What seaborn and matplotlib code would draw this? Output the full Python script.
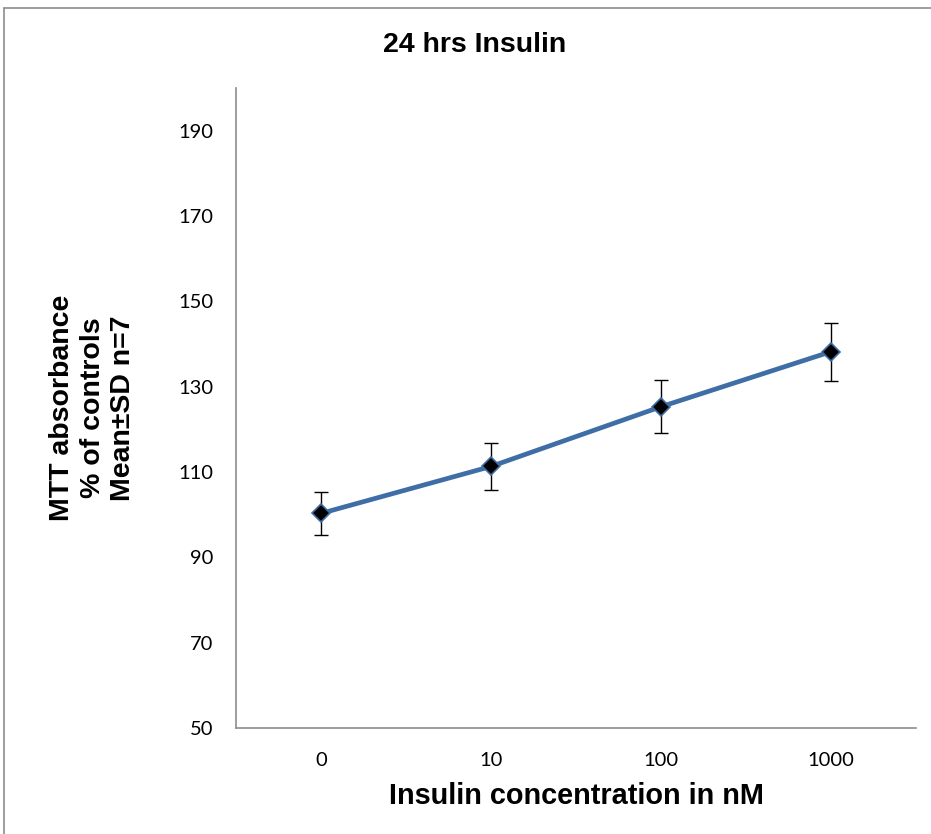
import matplotlib
matplotlib.use("Agg")
import matplotlib.pyplot as plt
import seaborn as sns
import pandas as pd
from matplotlib.lines import Line2D

# values
concentrations = ["0", "10", "100", "1000"]
mean_pct = [100.3, 111.3, 125.3, 138.2]
sd_pct = [5.0, 5.5, 6.2, 6.8]
y_ticks = [50, 70, 90, 110, 130, 150, 170, 190]

df = pd.DataFrame({"conc": concentrations, "mean": mean_pct, "sd": sd_pct})

sns.set_style("white")
plt.rcParams["font.family"] = ["Lato", "DejaVu Sans"]
plt.rcParams["text.color"] = "black"
plt.rcParams["axes.labelcolor"] = "black"

bold_font = ["Liberation Sans", "DejaVu Sans"]

fig = plt.figure(figsize=(9.31, 8.34), dpi=100)
ax = fig.add_axes([236 / 931, 1 - 728 / 834, (916 - 236) / 931, (728 - 88) / 834])

sns.pointplot(data=df, x="conc", y="mean", order=concentrations, errorbar=None,
              color="#3F6DA5", markers="D", linestyles="-", ax=ax,
              linewidth=3.4, markersize=9.5, markerfacecolor="black",
              markeredgecolor="#3F6DA5", markeredgewidth=1.2)

# standard deviation bars
ax.errorbar(range(len(concentrations)), df["mean"], yerr=df["sd"], fmt="none",
            ecolor="black", elinewidth=1, capsize=5, capthick=1, zorder=1)

ax.set_xlim(-0.5, len(concentrations) - 0.5)
ax.set_ylim(50, 200)
ax.set_yticks(y_ticks)
ax.tick_params(axis="both", length=0, labelsize=14.5, colors="black")
ax.tick_params(axis="y", pad=16.5)
ax.tick_params(axis="x", pad=17)

for side in ["top", "right"]:
    ax.spines[side].set_visible(False)
for side in ["left", "bottom"]:
    ax.spines[side].set_color("#8C8C8C")
    ax.spines[side].set_linewidth(1.2)

ax.set_xlabel("Insulin concentration in nM", fontsize=20.8, fontweight="bold",
              family=bold_font, labelpad=10)
ax.set_ylabel("MTT absorbance\n% of controls\nMean±SD n=7", fontsize=20.5,
              fontweight="bold", family=bold_font, labelpad=30, linespacing=1.22)
fig.text(475 / 931, 1 - 45 / 834, "24 hrs Insulin", ha="center", va="center",
         fontsize=20.5, fontweight="bold", family=bold_font)

# outer chart border
fig.add_artist(Line2D([4 / 931, 4 / 931], [0, 1 - 8 / 834], transform=fig.transFigure,
                      color="#8C8C8C", linewidth=1.2))
fig.add_artist(Line2D([4 / 931, 1], [1 - 8 / 834, 1 - 8 / 834], transform=fig.transFigure,
                      color="#8C8C8C", linewidth=1.2))

fig.savefig("out.png", dpi=100)
